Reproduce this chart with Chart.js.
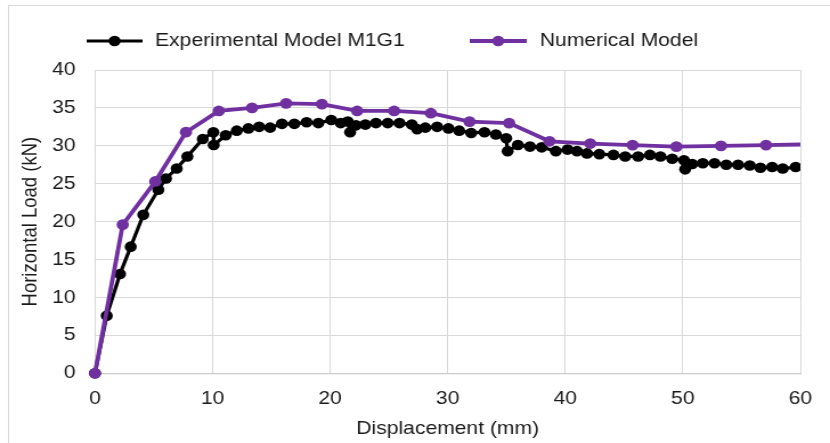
<!DOCTYPE html>
<html>
<head>
<meta charset="utf-8">
<script src="https://cdn.jsdelivr.net/npm/chart.js@4.4.1/dist/chart.umd.min.js"></script>
<style>
  html, body { margin: 0; padding: 0; background: #fff; }
</style>
</head>
<body>
<!-- drawing buffer is narrower than the element, so the chart is stretched sideways like the original export -->
<canvas id="chart" width="728" height="443" style="width:830px;height:443px;display:block"></canvas>
<script>
// experimental curve, M1G1 specimen
const expDisp = [0, 1.0, 2.13, 3.04, 4.11, 5.39, 6.04, 6.95, 7.86, 9.17, 10.07, 10.1, 11.12, 12.06, 13.05, 13.96,
  14.9, 15.9, 16.96, 18.0, 19.0, 20.1, 20.9, 21.5, 21.7, 22.2, 23.0, 23.9, 24.9, 25.9, 26.95, 27.4, 28.1,
  29.1, 30.07, 30.98, 32.0, 33.13, 34.1, 34.98, 35.1, 35.97, 37.0, 38.0, 39.2, 40.2, 41.0, 41.85, 42.9, 44.1,
  45.1, 46.2, 47.2, 48.1, 49.1, 50.1, 50.2, 50.8, 51.7, 52.7, 53.7, 54.7, 55.7, 56.6, 57.6, 58.5, 59.6, 60.7];
const expLoad = [0, 7.6, 13.1, 16.7, 20.9, 24.2, 25.7, 27.0, 28.6, 30.9, 31.8, 30.1, 31.4, 32.0, 32.3, 32.5,
  32.4, 32.9, 32.9, 33.1, 33.0, 33.4, 33.0, 33.2, 31.8, 32.7, 32.8, 33.0, 33.0, 33.0, 32.8, 32.2, 32.4,
  32.5, 32.3, 32.0, 31.7, 31.8, 31.5, 31.0, 29.3, 30.1, 29.9, 29.8, 29.3, 29.5, 29.3, 29.0, 28.9, 28.8,
  28.6, 28.6, 28.8, 28.6, 28.3, 28.1, 26.9, 27.6, 27.7, 27.7, 27.5, 27.5, 27.4, 27.1, 27.2, 27.0, 27.2, 26.9];

// numerical model curve
const numDisp = [0, 2.36, 5.13, 7.74, 10.53, 13.36, 16.26, 19.3, 22.3, 25.45, 28.57, 31.86, 35.23, 38.66,
  42.13, 45.73, 49.45, 53.25, 57.08, 60.9];
const numLoad = [0, 19.6, 25.3, 31.8, 34.6, 35.0, 35.6, 35.5, 34.6, 34.6, 34.3, 33.2, 33.0, 30.6,
  30.3, 30.1, 29.9, 30.0, 30.1, 30.2];

const xTicks = [0, 10, 20, 30, 40, 50, 60];
const yTicks = [0, 5, 10, 15, 20, 25, 30, 35, 40];

const seriesNames = ['Experimental Model M1G1', 'Numerical Model'];
const seriesColors = ['#000000', '#7030a0'];

const toPoints = (xs, ys) => xs.map((x, i) => ({ x: x, y: ys[i] }));

const FONT = { family: "'Liberation Sans', Arial, sans-serif", size: 18.5 };
const TEXT = '#1a1a1a';
const GRID = '#d9d9d9';

// outer frame of the chart area
const framePlugin = {
  id: 'frame',
  beforeDraw(chart) {
    const ctx = chart.ctx;
    ctx.save();
    ctx.fillStyle = '#ffffff';
    ctx.fillRect(0, 0, chart.width, chart.height);
    ctx.strokeStyle = GRID;
    ctx.lineWidth = 1;
    ctx.strokeRect(7.5, 5.5, 900, 900);
    ctx.restore();
  }
};

// legend with line + marker samples
const lineLegend = {
  id: 'lineLegend',
  afterDraw(chart) {
    const ctx = chart.ctx;
    const slots = [
      { x0: 76, x1: 125, tx: 136 },
      { x0: 412, x1: 462, tx: 473.5 }
    ];
    const y = 41;
    ctx.save();
    slots.forEach((s, i) => {
      ctx.strokeStyle = seriesColors[i];
      ctx.lineWidth = i === 0 ? 3.2 : 3.8;
      ctx.beginPath();
      ctx.moveTo(s.x0, y);
      ctx.lineTo(s.x1, y);
      ctx.stroke();
      ctx.fillStyle = seriesColors[i];
      ctx.beginPath();
      ctx.arc((s.x0 + s.x1) / 2, y, 5.3, 0, Math.PI * 2);
      ctx.fill();
      ctx.fillStyle = TEXT;
      ctx.font = FONT.size + 'px ' + FONT.family;
      ctx.textBaseline = 'middle';
      ctx.textAlign = 'left';
      ctx.fillText(seriesNames[i], s.tx, y);
    });
    ctx.restore();
  }
};

// let the markers at the origin spill past the axes, but cut the curves at 60 mm
const curveClip = { left: 8, top: 8, right: 0, bottom: 8 };

new Chart(document.getElementById('chart'), {
  type: 'scatter',
  data: {
    datasets: [
      {
        label: seriesNames[0],
        data: toPoints(expDisp, expLoad),
        showLine: true,
        borderColor: seriesColors[0],
        backgroundColor: seriesColors[0],
        borderWidth: 3.2,
        pointRadius: 5.3,
        pointBorderWidth: 0,
        pointHoverRadius: 5.3,
        clip: curveClip,
        order: 1
      },
      {
        label: seriesNames[1],
        data: toPoints(numDisp, numLoad),
        showLine: true,
        borderColor: seriesColors[1],
        backgroundColor: seriesColors[1],
        borderWidth: 3.8,
        pointRadius: 5.4,
        pointBorderWidth: 0,
        pointHoverRadius: 5.4,
        clip: curveClip,
        order: 0
      }
    ]
  },
  options: {
    responsive: false,
    animation: false,
    devicePixelRatio: 1,
    layout: { padding: { top: 70, right: 26, bottom: 0, left: 0 } },
    plugins: {
      legend: { display: false },
      tooltip: { enabled: false }
    },
    scales: {
      x: {
        type: 'linear',
        min: 0,
        max: 60,
        afterBuildTicks: (s) => { s.ticks = xTicks.map(v => ({ value: v })); },
        afterFit: (s) => { s.height = 69.7; },
        grid: { color: GRID, lineWidth: 1, drawTicks: false },
        border: { color: '#cccccc', width: 1.3 },
        ticks: { padding: 15, color: TEXT, font: FONT },
        title: {
          display: true,
          text: 'Displacement (mm)',
          color: TEXT,
          font: FONT,
          padding: { top: 0, bottom: 3 }
        }
      },
      y: {
        min: 0,
        max: 40,
        afterBuildTicks: (s) => { s.ticks = yTicks.map(v => ({ value: v })); },
        afterFit: (s) => { s.width = 83.3; },
        grid: { color: GRID, lineWidth: 1, drawTicks: false },
        border: { color: GRID, width: 1 },
        ticks: { padding: 17, color: TEXT, font: FONT },
        title: {
          display: true,
          text: 'Horizontal Load (kN)',
          color: TEXT,
          font: FONT,
          padding: { top: 15.7, bottom: 0 }
        }
      }
    }
  },
  plugins: [framePlugin, lineLegend]
});
</script>
</body>
</html>
